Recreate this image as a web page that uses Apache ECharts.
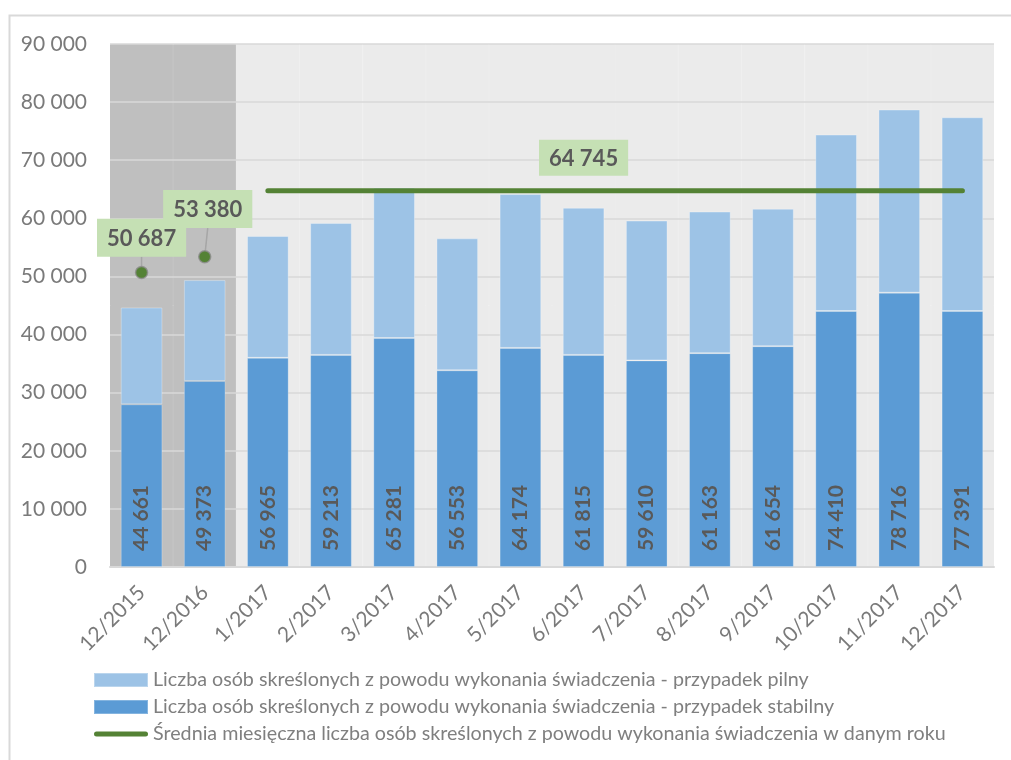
<!DOCTYPE html>
<html>
<head>
<meta charset="utf-8">
<script src="https://cdn.jsdelivr.net/npm/echarts@6/dist/echarts.min.js"></script>
<style>
  html, body { margin: 0; padding: 0; background: #ffffff; }
  #chart { width: 1011px; height: 760px; }
</style>
</head>
<body>
<div id="chart"></div>
<script>
// Months (the first two are year-end snapshots of previous years)
const categories = ['12/2015', '12/2016', '1/2017', '2/2017', '3/2017', '4/2017', '5/2017',
  '6/2017', '7/2017', '8/2017', '9/2017', '10/2017', '11/2017', '12/2017'];

// Total removed from the list (stable + urgent)
const totals = [44661, 49373, 56965, 59213, 65281, 56553, 64174, 61815, 59610, 61163, 61654, 74410, 78716, 77391];

// Removed - stable cases
const stable = [28000, 32000, 36000, 36500, 39400, 33850, 37700, 36500, 35550, 36800, 38000, 44050, 47200, 44050];

// Monthly averages of previous years and of 2017
const prevYearCats = ['12/2015', '12/2016'];
const prevYearAvg = [50687, 53380];
const avg2017 = 64745;
const avgLabelAt = '6/2017';

// Y axis ticks
const yTicks = [0, 10000, 20000, 30000, 40000, 50000, 60000, 70000, 80000, 90000];

const seriesNames = [
  'Liczba osób skreślonych z powodu wykonania świadczenia - przypadek pilny',
  'Liczba osób skreślonych z powodu wykonania świadczenia - przypadek stabilny',
  'Średnia miesięczna liczba osób skreślonych z powodu wykonania świadczenia w danym roku'
];

const FONT = 'Lato';
const fmt = v => String(v).replace(/\B(?=(\d{3})+(?!\d))/g, ' ');

const urgent = totals.map((t, i) => t - stable[i]);

const chart = echarts.init(document.getElementById('chart'), null, { renderer: 'canvas' });

const option = {
  animation: false,
  backgroundColor: '#ffffff',
  textStyle: { fontFamily: FONT },
  graphic: [{
    type: 'rect',
    left: 7, top: 13,
    shape: { width: 1020, height: 760 },
    style: { fill: 'none', stroke: '#d9d9d9', lineWidth: 2 },
    silent: true, z: -10
  }],
  grid: { left: 110, right: 17, top: 44, bottom: 193 },
  legend: {
    orient: 'vertical',
    left: 93, top: 670,
    padding: 0,
    itemWidth: 54, itemHeight: 14, itemGap: 7,
    textStyle: { fontFamily: FONT, fontSize: 19.7, lineHeight: 18, color: '#7f7f7f' },
    data: [
      { name: seriesNames[0], icon: 'rect' },
      { name: seriesNames[1], icon: 'rect' },
      { name: seriesNames[2], icon: 'path://M2.5,0 H51.5 A2.5,2.5 0 0 1 51.5,5 H2.5 A2.5,2.5 0 0 1 2.5,0 Z' }
    ]
  },
  xAxis: [{
    type: 'category',
    data: categories,
    boundaryGap: true,
    axisLine: { lineStyle: { color: '#d9d9d9', width: 2 } },
    axisTick: { show: false },
    axisLabel: {
      rotate: 45, margin: 22, interval: 0,
      fontFamily: FONT, fontSize: 21, color: '#7a7a7a'
    },
    z: 1
  }, {
    type: 'category', data: categories, show: false, boundaryGap: true
  }],
  yAxis: [{
    type: 'value',
    min: yTicks[0], max: yTicks[yTicks.length - 1], interval: yTicks[1] - yTicks[0],
    axisLine: { show: false },
    axisTick: { show: false },
    axisLabel: { margin: 23, fontFamily: FONT, fontSize: 21, color: '#7a7a7a', formatter: v => fmt(v) },
    splitLine: { lineStyle: { color: '#d9d9d9', width: 1.5 } }
  }, {
    type: 'value', min: 0, max: 1, show: false
  }],
  series: [
    {
      // plot backdrop: darker for previous years
      type: 'bar',
      xAxisIndex: 1, yAxisIndex: 1,
      barWidth: '100%',
      silent: true,
      z: -1,
      data: categories.map(c => prevYearCats.includes(c)
        ? { value: 1, itemStyle: { color: '#bfbfbf', borderColor: '#bfbfbf', borderWidth: 1 } }
        : { value: 1, itemStyle: { color: '#ebebeb', borderColor: '#ebebeb', borderWidth: 1 } })
    },
    {
      name: seriesNames[1],
      type: 'bar',
      stack: 'total',
      barWidth: '66%',
      itemStyle: { color: '#5b9bd5', borderColor: 'rgba(255,255,255,0.25)', borderWidth: 1 },
      label: {
        show: true,
        position: 'insideBottom',
        distance: 16,
        rotate: 90,
        align: 'left',
        verticalAlign: 'middle',
        fontFamily: FONT, fontSize: 21, fontWeight: 'bold', color: '#595959',
        formatter: p => fmt(totals[p.dataIndex])
      },
      data: stable
    },
    {
      name: seriesNames[0],
      type: 'bar',
      stack: 'total',
      barWidth: '66%',
      itemStyle: { color: '#9dc3e6', borderColor: 'rgba(255,255,255,0.3)', borderWidth: 1 },
      data: urgent
    },
    {
      name: seriesNames[2],
      type: 'line',
      symbol: 'circle',
      symbolSize: 2,
      itemStyle: { color: '#548235' },
      lineStyle: { color: '#548235', width: 5, cap: 'round' },
      z: 5,
      data: categories.map(c => prevYearCats.includes(c) ? '-' : (c === avgLabelAt ? {
        value: avg2017,
        label: {
          show: true, position: 'top', distance: 14,
          backgroundColor: '#c5e0b4', padding: [8, 10, 6, 10],
          fontFamily: FONT, fontSize: 22, fontWeight: 'bold', color: '#595959',
          formatter: p => fmt(p.value)
        }
      } : avg2017))
    },
    {
      name: 'prev-years',
      type: 'scatter',
      symbol: 'circle',
      symbolSize: 12,
      z: 6,
      itemStyle: { color: '#548235', opacity: 1, borderColor: 'rgba(140,140,140,0.8)', borderWidth: 1.5 },
      label: {
        show: true, position: 'top', distance: 9,
        backgroundColor: '#c5e0b4', padding: [9, 10, 7, 10],
        fontFamily: FONT, fontSize: 22, fontWeight: 'bold', color: '#595959',
        formatter: p => fmt(p.value)
      },
      labelLayout: p => p.dataIndex === 1 ? { dx: 3, dy: -13 } : {},
      labelLine: { show: true, lineStyle: { color: '#a6a6a6', width: 1.5 } },
      data: categories.map(c => {
        const k = prevYearCats.indexOf(c);
        return k >= 0 ? prevYearAvg[k] : '-';
      })
    }
  ]
};

chart.setOption(option);
</script>
</body>
</html>
